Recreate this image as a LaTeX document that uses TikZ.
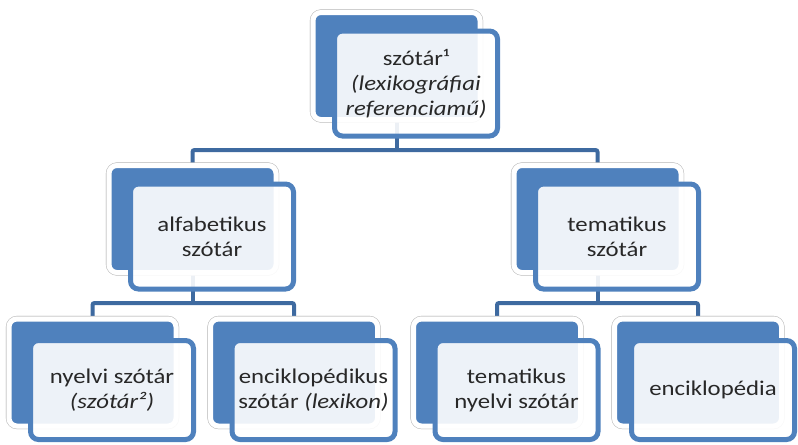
\documentclass[tikz,border=0pt]{standalone}
\usepackage{fontspec}
\setmainfont{Carlito}[FakeStretch=1.18]
\definecolor{accent}{RGB}{79,129,189}
\definecolor{connc}{RGB}{62,106,160}
\definecolor{txt}{RGB}{40,40,40}
\definecolor{rim}{RGB}{200,200,200}
\tikzset{
  backbox/.style={rectangle, rounded corners=6pt, fill=accent, draw=white,
    line width=3.75pt, inner sep=0pt, outer sep=0pt,
    minimum width=125.25pt, minimum height=80.25pt,
    preaction={draw=rim, line width=4.6pt}},
  frontbox/.style={rectangle, rounded corners=6pt, fill=white, fill opacity=0.9,
    text opacity=1, draw=accent, draw opacity=1, line width=3.75pt,
    inner sep=0pt, outer sep=0pt, minimum width=122.25pt, minimum height=78.75pt,
    align=center, text=txt, font=\fontsize{15.75}{18.75}\selectfont},
  frontlow/.style={frontbox, minimum height=74.25pt},
  conn/.style={draw=connc, line width=3pt, rounded corners=1.5pt}
}
\begin{document}
\begin{tikzpicture}[x=0.75pt, y=-0.75pt]
\useasboundingbox (0,0) rectangle (798,444);
% coordinates of the connector bars
\coordinate (bar0) at (0,150);
\coordinate (bar1) at (0,303);
% back boxes (positions only, drawn later); define via nodes after connectors
\path (396.5,66) node[backbox, draw=none, fill=none, preaction={}] (b0) {}
      (192.5,219) node[backbox, draw=none, fill=none, preaction={}] (b1) {}
      (597.5,219) node[backbox, draw=none, fill=none, preaction={}] (b2) {}
      (92.5,372.5) node[backbox, draw=none, fill=none, preaction={}] (b3) {}
      (294,372.5) node[backbox, draw=none, fill=none, preaction={}] (b4) {}
      (497,372.5) node[backbox, draw=none, fill=none, preaction={}] (b5) {}
      (698,372.5) node[backbox, draw=none, fill=none, preaction={}] (b6) {};
% connectors
\draw[conn] (b0.south) -- (b0.south |- bar0);
\draw[conn] (b1.north) |- (b2.north |- bar0) -- (b2.north);
\draw[conn] (b1.south) -- (b1.south |- bar1);
\draw[conn] (b3.north) |- (b4.north |- bar1) -- (b4.north);
\draw[conn] (b2.south) -- (b2.south |- bar1);
\draw[conn] (b5.north) |- (b6.north |- bar1) -- (b6.north);
% visible back boxes
\node[backbox] (bb0) at (b0) {};
\node[backbox] (bb1) at (b1) {};
\node[backbox] (bb2) at (b2) {};
\node[backbox] (bb3) at (b3) {};
\node[backbox] (bb4) at (b4) {};
\node[backbox] (bb5) at (b5) {};
\node[backbox] (bb6) at (b6) {};
% front boxes with text
\node[frontbox] (f0) at (416,83.5) {szótár¹\\\textit{(lexikográfiai}\\\textit{referenciamű)}};
\node[frontbox] (f1) at (212,236.5) {alfabetikus\\szótár};
\node[frontbox] (f2) at (617,236.5) {tematikus\\szótár};
\node[frontlow] (f3) at (112,390) {nyelvi szótár\\\textit{(szótár²)}};
\node[frontlow] (f4) at (313.5,390) {enciklopédikus\\szótár \textit{(lexikon)}};
\node[frontlow] (f5) at (516.5,390) {tematikus\\nyelvi szótár};
\node[frontlow] (f6) at (713,390) {enciklopédia};
\end{tikzpicture}
\end{document}
